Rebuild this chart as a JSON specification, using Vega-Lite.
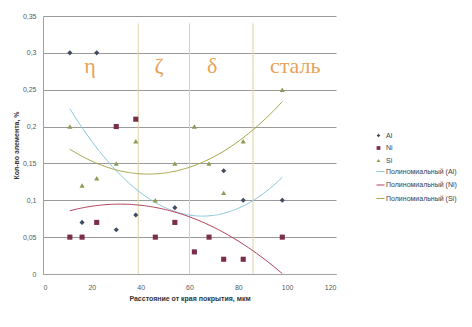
{
  "$schema": "https://vega.github.io/schema/vega-lite/v6.json",
  "width": 293,
  "height": 258,
  "autosize": "none",
  "padding": {"left": 43, "top": 16, "right": 136, "bottom": 53},
  "background": "white",
  "config": {
    "view": {"stroke": null},
    "locale": {"number": {"decimal": ",", "thousands": " ", "grouping": [3], "currency": ["", ""]}},
    "axis": {"labelFont": "Liberation Sans", "titleFont": "Liberation Sans", "labelColor": "#595959", "titleColor": "#333333", "labelOverlap": false, "labelBound": false}
  },
  "datasets": {
    "points": [
      {"x": 11, "y": 0.3, "series": "Al", "fit": "Полиномиальный (Al)"},
      {"x": 22, "y": 0.3, "series": "Al", "fit": "Полиномиальный (Al)"},
      {"x": 16, "y": 0.07, "series": "Al", "fit": "Полиномиальный (Al)"},
      {"x": 30, "y": 0.06, "series": "Al", "fit": "Полиномиальный (Al)"},
      {"x": 38, "y": 0.08, "series": "Al", "fit": "Полиномиальный (Al)"},
      {"x": 54, "y": 0.09, "series": "Al", "fit": "Полиномиальный (Al)"},
      {"x": 74, "y": 0.14, "series": "Al", "fit": "Полиномиальный (Al)"},
      {"x": 82, "y": 0.1, "series": "Al", "fit": "Полиномиальный (Al)"},
      {"x": 98, "y": 0.1, "series": "Al", "fit": "Полиномиальный (Al)"},
      {"x": 11, "y": 0.05, "series": "Ni", "fit": "Полиномиальный (Ni)"},
      {"x": 16, "y": 0.05, "series": "Ni", "fit": "Полиномиальный (Ni)"},
      {"x": 22, "y": 0.07, "series": "Ni", "fit": "Полиномиальный (Ni)"},
      {"x": 30, "y": 0.2, "series": "Ni", "fit": "Полиномиальный (Ni)"},
      {"x": 38, "y": 0.21, "series": "Ni", "fit": "Полиномиальный (Ni)"},
      {"x": 46, "y": 0.05, "series": "Ni", "fit": "Полиномиальный (Ni)"},
      {"x": 54, "y": 0.07, "series": "Ni", "fit": "Полиномиальный (Ni)"},
      {"x": 62, "y": 0.03, "series": "Ni", "fit": "Полиномиальный (Ni)"},
      {"x": 68, "y": 0.05, "series": "Ni", "fit": "Полиномиальный (Ni)"},
      {"x": 74, "y": 0.02, "series": "Ni", "fit": "Полиномиальный (Ni)"},
      {"x": 82, "y": 0.02, "series": "Ni", "fit": "Полиномиальный (Ni)"},
      {"x": 98, "y": 0.05, "series": "Ni", "fit": "Полиномиальный (Ni)"},
      {"x": 11, "y": 0.2, "series": "Si", "fit": "Полиномиальный (Si)"},
      {"x": 16, "y": 0.12, "series": "Si", "fit": "Полиномиальный (Si)"},
      {"x": 22, "y": 0.13, "series": "Si", "fit": "Полиномиальный (Si)"},
      {"x": 30, "y": 0.15, "series": "Si", "fit": "Полиномиальный (Si)"},
      {"x": 38, "y": 0.18, "series": "Si", "fit": "Полиномиальный (Si)"},
      {"x": 46, "y": 0.1, "series": "Si", "fit": "Полиномиальный (Si)"},
      {"x": 54, "y": 0.15, "series": "Si", "fit": "Полиномиальный (Si)"},
      {"x": 62, "y": 0.2, "series": "Si", "fit": "Полиномиальный (Si)"},
      {"x": 68, "y": 0.15, "series": "Si", "fit": "Полиномиальный (Si)"},
      {"x": 74, "y": 0.11, "series": "Si", "fit": "Полиномиальный (Si)"},
      {"x": 82, "y": 0.18, "series": "Si", "fit": "Полиномиальный (Si)"},
      {"x": 98, "y": 0.25, "series": "Si", "fit": "Полиномиальный (Si)"}
    ],
    "zones": [
      {"x": 39, "y": 0, "y2": 0.34},
      {"x": 60, "y": 0, "y2": 0.34},
      {"x": 86, "y": 0, "y2": 0.34}
    ],
    "labels": [
      {"x": 19.3, "y": 0.273, "label": "η"},
      {"x": 47.5, "y": 0.273, "label": "ζ"},
      {"x": 69.3, "y": 0.273, "label": "δ"},
      {"x": 103.3, "y": 0.273, "label": "сталь"}
    ]
  },
  "layer": [
    {
      "data": {"name": "zones"},
      "mark": {"type": "rule", "color": "#dcd3a6", "strokeWidth": 1},
      "encoding": {
        "x": {"field": "x", "type": "quantitative", "scale": {"domain": [0, 120]},
          "axis": {"values": [0, 20, 40, 60, 80, 100, 120], "tickCount": 12, "grid": false, "ticks": false, "domain": true, "domainColor": "#a0a0a0", "labelFontSize": 7, "labelPadding": 9, "title": "Расстояние от края покрытия, мкм", "titleFontSize": 7, "titleFontWeight": "bold", "titlePadding": 4}},
        "y": {"field": "y", "type": "quantitative", "scale": {"domain": [0, 0.35]},
          "axis": {"values": [0, 0.05, 0.1, 0.15, 0.2, 0.25, 0.3, 0.35], "tickCount": 12, "format": ".2~f", "grid": true, "gridColor": "#9a9a9a", "ticks": false, "domain": true, "domainColor": "#a0a0a0", "labelFontSize": 7, "labelPadding": 7, "title": "Кол-во элемента, %", "titleFontSize": 7, "titleFontWeight": "bold", "titlePadding": 3}},
        "y2": {"field": "y2"}
      }
    },
    {
      "data": {"name": "labels"},
      "mark": {"type": "text", "font": "Liberation Serif", "fontSize": 22, "color": "#e8a35a", "baseline": "alphabetic", "align": "center"},
      "encoding": {
        "x": {"field": "x", "type": "quantitative"},
        "y": {"field": "y", "type": "quantitative"},
        "text": {"field": "label"}
      }
    },
    {
      "data": {"name": "points"},
      "transform": [
        {"regression": "y", "on": "x", "groupby": ["fit"], "method": "poly", "order": 2}
      ],
      "mark": {"type": "line", "strokeWidth": 1, "interpolate": "monotone"},
      "encoding": {
        "x": {"field": "x", "type": "quantitative"},
        "y": {"field": "y", "type": "quantitative"},
        "stroke": {"field": "fit", "type": "nominal",
          "scale": {"domain": ["Полиномиальный (Al)", "Полиномиальный (Ni)", "Полиномиальный (Si)"], "range": ["#8ec6de", "#b3435e", "#a9a64e"]},
          "legend": {"title": null, "orient": "none", "legendX": 333, "legendY": 151, "symbolType": "stroke", "symbolSize": 64, "symbolStrokeWidth": 1, "labelFont": "Liberation Sans", "labelFontSize": 7, "labelColor": "#404040", "labelOffset": 1, "rowPadding": 5.5, "padding": 0}}
      }
    },
    {
      "data": {"name": "points"},
      "mark": {"type": "point", "filled": true, "opacity": 1},
      "encoding": {
        "x": {"field": "x", "type": "quantitative"},
        "y": {"field": "y", "type": "quantitative"},
        "color": {"field": "series", "type": "nominal",
          "scale": {"domain": ["Al", "Ni", "Si"], "range": ["#3f4b63", "#7b2d4c", "#8e9b52"]},
          "legend": {"title": null, "orient": "none", "legendX": 332, "legendY": 116, "symbolSize": 14, "labelFont": "Liberation Sans", "labelFontSize": 7, "labelColor": "#404040", "labelOffset": 4, "rowPadding": 4.5, "padding": 0}},
        "shape": {"field": "series", "type": "nominal",
          "scale": {"domain": ["Al", "Ni", "Si"], "range": ["diamond", "square", "triangle-up"]}},
        "size": {"value": 26}
      }
    }
  ]
}
